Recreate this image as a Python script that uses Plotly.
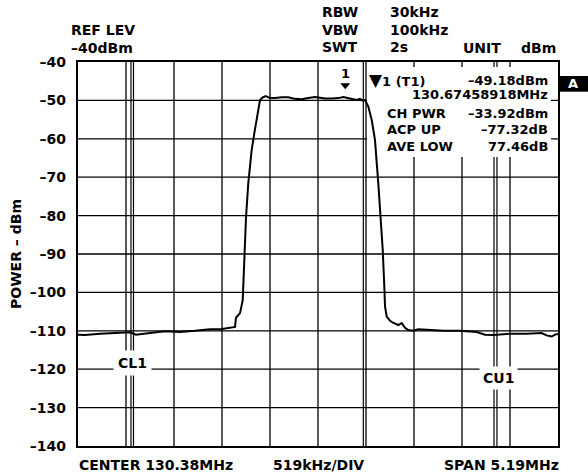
import plotly.graph_objects as go

# ---------------- data ----------------
freq_mhz = [127.785, 127.861, 128.023, 128.239, 128.347, 128.412, 128.477, 128.564, 128.726,
            128.888, 129.050, 129.212, 129.342, 129.461, 129.483, 129.493, 129.537, 129.566,
            129.572, 129.580, 129.602, 129.626, 129.663, 129.691, 129.724, 129.753, 129.778,
            129.815, 129.861, 129.915, 129.987, 130.059, 130.131, 130.204, 130.275, 130.348,
            130.402, 130.456, 130.528, 130.599, 130.654, 130.708, 130.762, 130.798, 130.834,
            130.859, 130.888, 130.924, 130.961, 130.996, 131.032, 131.058, 131.080, 131.097,
            131.105, 131.123, 131.159, 131.191, 131.223, 131.248, 131.285, 131.321, 131.356,
            131.410, 131.464, 131.555, 131.735, 131.915, 132.096, 132.186, 132.275, 132.456,
            132.636, 132.798, 132.852, 132.907, 132.943, 132.975]
level_dbm = [-111.0, -111.1, -110.8, -110.5, -110.4, -111.0, -110.9, -110.6, -110.1,
             -110.3, -110.0, -109.6, -109.5, -109.2, -109.0, -106.6, -105.4, -102.0,
             -98.5, -89.8, -80.3, -71.6, -62.9, -58.6, -53.4, -49.9, -49.3,
             -48.9, -49.4, -49.4, -49.2, -49.2, -49.6, -49.7, -49.4, -49.1,
             -49.3, -49.5, -49.5, -49.4, -49.1, -49.4, -49.8, -49.9, -49.6,
             -50.0, -49.9, -51.6, -55.1, -60.3, -71.6, -80.3, -89.0, -98.5,
             -103.7, -106.3, -107.4, -107.9, -108.3, -108.5, -108.0, -109.2, -109.8,
             -110.0, -109.6, -109.8, -110.0, -110.0, -110.3, -111.0, -111.1, -110.8,
             -110.8, -110.6, -111.2, -111.5, -111.0, -110.8]

center_mhz = 130.38
span_mhz = 5.19
ref_level = -40
div_db = 10
y_ticks = [-40, -50, -60, -70, -80, -90, -100, -110, -120, -130, -140]
y_ticktext = ["–40", "–50", "–60", "–70", "–80", "–90", "–100", "–110", "–120", "–130", "–140"]

channel_lines_mhz = [128.358, 128.385, 130.870, 132.283, 132.315]
marker_f = 130.67458918
marker_lvl = -49.18

top_left = ["REF LEV", "–40dBm"]
top_mid_labels = ["RBW", "VBW", "SWT"]
top_mid_values = ["30kHz", "100kHz", "2s"]
info_left = ["<span style='font-size:17px'>▼</span>1 (T1)", "", "CH PWR", "ACP UP", "AVE LOW"]
info_right = ["–49.18dBm", "130.67458918MHz", "–33.92dBm", "–77.32dB", "77.46dB"]

# ---------------- layout helpers ----------------
L, T, W, H = 78, 62, 480, 384
FIG_W, FIG_H = 588, 475
def px_x(px):
    return (px - L) / W
def px_y(py):
    return (T + H - py) / H

FONT = "DejaVu Sans"
x0 = center_mhz - span_mhz / 2
x1 = center_mhz + span_mhz / 2
y_lo = ref_level - 10 * div_db

fig = go.Figure()
fig.add_trace(go.Scatter(x=freq_mhz, y=level_dbm, mode="lines",
                         line=dict(color="black", width=2), hoverinfo="skip"))

shapes = []
GRID = dict(color="black", width=1.3)
for k in range(1, 10):
    gx = x0 + k * span_mhz / 10
    shapes.append(dict(type="line", xref="x", yref="y domain", x0=gx, x1=gx, y0=0, y1=1,
                       line=GRID, layer="below"))
for gy in y_ticks[1:-1]:
    shapes.append(dict(type="line", xref="x domain", yref="y", x0=0, x1=1, y0=gy, y1=gy,
                       line=GRID, layer="below"))
for cx in channel_lines_mhz:
    shapes.append(dict(type="line", xref="x", yref="y domain", x0=cx, x1=cx, y0=0, y1=1,
                       line=dict(color="black", width=1.2), layer="below"))
# white background of the marker info block
shapes.append(dict(type="rect", xref="x domain", yref="y domain",
                   x0=px_x(367), x1=px_x(551), y0=px_y(157), y1=px_y(67),
                   fillcolor="white", line=dict(width=0), layer="below"))
# marker triangle
shapes.append(dict(type="path", xref="x", yref="y", xsizemode="pixel", ysizemode="pixel",
                   xanchor=marker_f, yanchor=marker_lvl,
                   path="M -5,14 L 5,14 L 0,8 Z", fillcolor="black", line=dict(width=0),
                   layer="above"))
# "A" box
shapes.append(dict(type="rect", xref="paper", yref="paper",
                   x0=px_x(559), x1=px_x(588), y0=px_y(91.7), y1=px_y(76),
                   fillcolor="black", line=dict(width=0), layer="above"))

ann = []
def text(t, px, py, anchor="left", size=14, color="black", bg=None, pad=0):
    d = dict(text=t, xref="paper", yref="paper", x=px_x(px), y=px_y(py),
             xanchor=anchor, yanchor="middle", showarrow=False, borderpad=pad,
             font=dict(family=FONT, size=size, color=color, weight="bold"))
    if bg:
        d["bgcolor"] = bg
    ann.append(d)

text(top_left[0], 70, 30)
text(top_left[1], 70, 48)
for i, (lab, val) in enumerate(zip(top_mid_labels, top_mid_values)):
    cy = [12, 30, 47][i]
    text(lab, 339.5, cy, anchor="center")
    text(val, 389, cy)
text("UNIT", 461.5, 48)
text("dBm", 557, 48, anchor="right")
text("CENTER 130.38MHz", 78, 465)
text("519kHz/DIV", 318, 465, anchor="center")
text("SPAN 5.19MHz", 560, 465, anchor="right")

info_y = [80, 94, 113, 129.5, 146]
for i in range(5):
    if info_left[i]:
        text(info_left[i], 368 if i == 0 else 386, info_y[i], size=13)
    text(info_right[i], 549, info_y[i], anchor="right", size=13)

text("A", 573, 84, anchor="center", size=13, color="white")
text("CL1", 132, 362.5, anchor="center", bg="white", pad=4)
text("CU1", 498, 377.5, anchor="center", bg="white", pad=3)

# marker number
ann.append(dict(text="1", xref="x", yref="y", x=marker_f, y=marker_lvl, yshift=24,
                showarrow=False, font=dict(family=FONT, size=13, color="black", weight="bold")))

# y-axis title
ann.append(dict(text="POWER – dBm", xref="paper", yref="paper", x=px_x(16), y=0.5,
                xanchor="center", yanchor="middle", textangle=-90, showarrow=False,
                font=dict(family=FONT, size=14, color="black", weight="bold")))

fig.update_layout(
    width=FIG_W, height=FIG_H,
    margin=dict(l=L, r=FIG_W - L - W, t=T, b=FIG_H - T - H),
    plot_bgcolor="white", paper_bgcolor="white",
    showlegend=False, shapes=shapes, annotations=ann,
    xaxis=dict(range=[x0, x1], showticklabels=False, showgrid=False, zeroline=False,
               showline=True, linecolor="black", linewidth=2.2, mirror=True, ticks=""),
    yaxis=dict(range=[y_lo, ref_level], tickvals=y_ticks, ticktext=y_ticktext,
               showgrid=False, zeroline=False,
               showline=True, linecolor="black", linewidth=2.2, mirror=True, ticks="",
               ticklabelstandoff=7,
               tickfont=dict(family=FONT, size=14, color="black", weight="bold")),
)

fig.write_html("out.html", post_script="document.body.style.margin='0';",
               config={"displayModeBar": False})
